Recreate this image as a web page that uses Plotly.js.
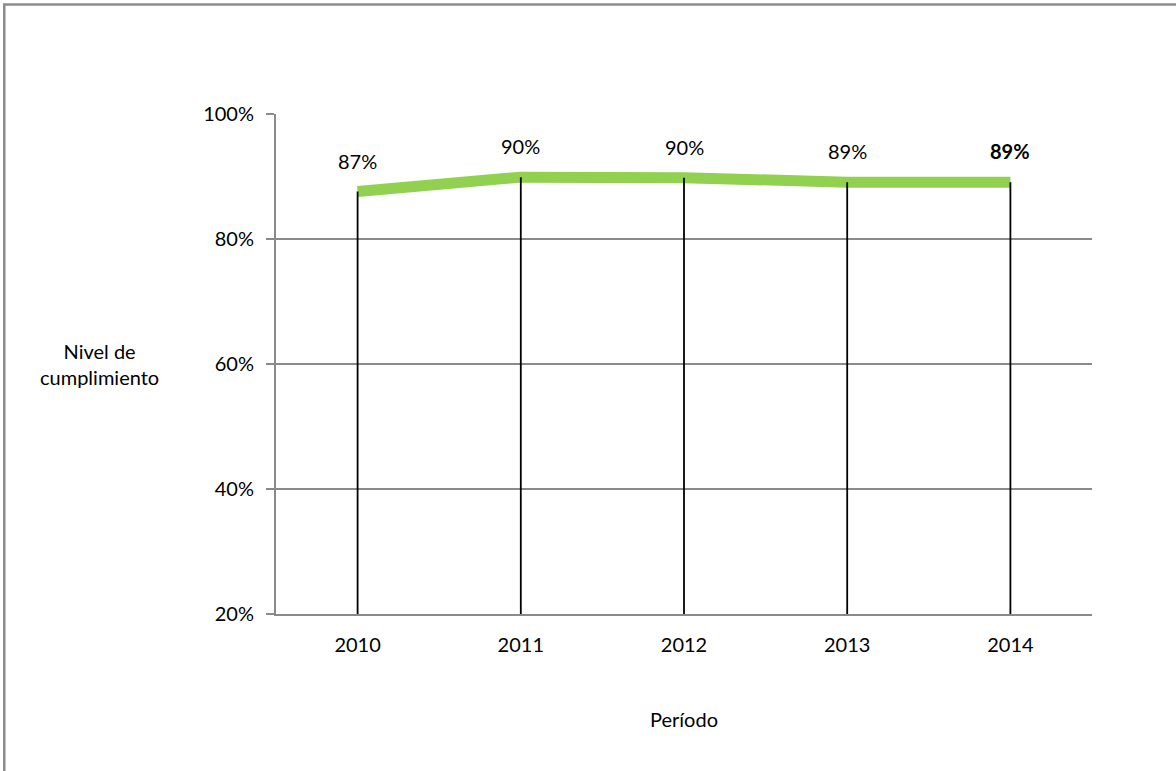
<!DOCTYPE html>
<html>
<head>
<meta charset="utf-8">
<script src="https://cdn.plot.ly/plotly-3.0.1.min.js"></script>
<style>
html,body{margin:0;padding:0;background:#fff;}
#chart{width:1176px;height:771px;}
</style>
</head>
<body>
<div id="chart"></div>
<script>
// Data
const periods = ['2010', '2011', '2012', '2013', '2014'];
const compliance = [87.6, 89.9, 89.8, 89.1, 89.1];
const valueLabels = ['87%', '90%', '90%', '89%', '<b>89%</b>'];
const yTickValues = [20, 40, 60, 80, 100];
const yTickLabels = ['20%', '40%', '60%', '80%', '100%'];
const yTitle = 'Nivel de<br>cumplimiento';
const xTitle = 'Período';
const axisMin = 20;

const FONT = 'Lato, "Open Sans", sans-serif';
const GRAY = '#8a8a8a';

const lineTrace = {
  type: 'scatter',
  mode: 'lines',
  x: periods,
  y: compliance,
  line: {color: '#92D050', width: 11},
  hoverinfo: 'skip',
  showlegend: false
};

const dropTrace = {
  type: 'scatter',
  mode: 'markers',
  x: periods,
  y: compliance,
  marker: {size: 1, color: 'rgba(0,0,0,0)'},
  error_y: {
    type: 'data',
    symmetric: false,
    array: compliance.map(() => 0),
    arrayminus: compliance.map(v => v - axisMin),
    color: '#000000',
    thickness: 1.8,
    width: 0
  },
  hoverinfo: 'skip',
  showlegend: false
};

// category axis: annotations use the category index
const annotations = periods.map((p, i) => ({
  x: i, y: compliance[i], xref: 'x', yref: 'y',
  text: valueLabels[i], showarrow: false,
  yshift: 31, xshift: 0,
  font: {family: FONT, size: 20, color: '#000'}
}));

annotations.push({
  xref: 'paper', yref: 'paper', x: -0.216, y: 0.5,
  xanchor: 'center', yanchor: 'middle',
  text: yTitle, showarrow: false, align: 'center',
  font: {family: FONT, size: 20, color: '#000'}
});

const layout = {
  width: 1176, height: 771,
  margin: {l: 276, r: 84, t: 114, b: 157, pad: 0},
  paper_bgcolor: '#ffffff',
  plot_bgcolor: '#ffffff',
  font: {family: FONT, size: 20, color: '#000'},
  showlegend: false,
  xaxis: {
    type: 'category',
    range: [-0.5, 4.5],
    showgrid: false,
    zeroline: false,
    showline: true,
    linecolor: GRAY,
    linewidth: 2,
    ticks: '',
    ticklabelstandoff: 12,
    tickfont: {family: FONT, size: 20, color: '#000'},
    title: {text: xTitle, standoff: 58, font: {family: FONT, size: 20, color: '#000'}}
  },
  yaxis: {
    range: [20, 100],
    tickvals: yTickValues,
    ticktext: yTickLabels,
    showgrid: true,
    gridcolor: GRAY,
    gridwidth: 1.5,
    zeroline: false,
    showline: true,
    linecolor: GRAY,
    linewidth: 2,
    ticks: 'outside',
    ticklen: 8,
    tickcolor: GRAY,
    tickwidth: 2,
    ticklabelstandoff: 8,
    tickfont: {family: FONT, size: 20, color: '#000'}
  },
  annotations: annotations,
  shapes: [{
    type: 'rect', xref: 'paper', yref: 'paper',
    x0: -0.333, x1: 1.3, y0: -0.5, y1: 1.219,
    line: {color: '#8c8c8c', width: 2.5},
    fillcolor: 'rgba(0,0,0,0)', layer: 'below'
  }]
};

Plotly.newPlot('chart', [lineTrace, dropTrace], layout, {displayModeBar: false, staticPlot: true});
</script>
</body>
</html>
